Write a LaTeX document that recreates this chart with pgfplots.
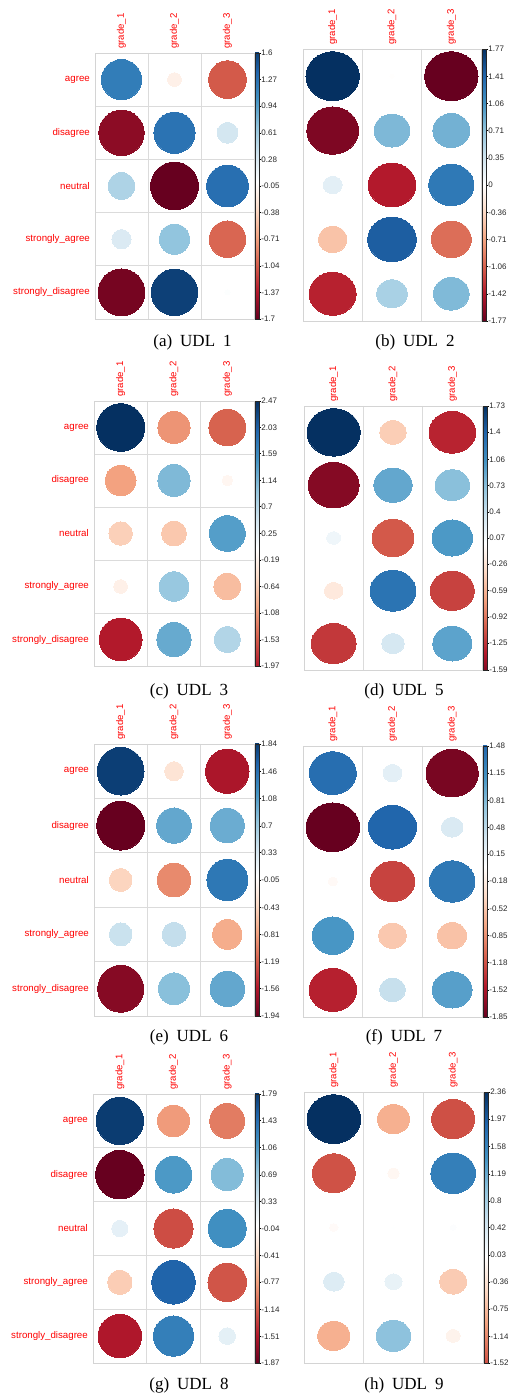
\documentclass[border=0pt]{standalone}
\usepackage{fontspec}
\setmainfont{Liberation Sans}
\newfontfamily\capfont{Liberation Serif}
\usepackage{pgfplots}
\usepackage{pgfplotstable}
\pgfplotsset{compat=1.18}

% values: rows agree, disagree, neutral, strongly_agree, strongly_disagree; cols grade_1..3
\pgfplotstableread{
r c v
1 1 1.19
1 2 -0.14
1 3 -1.05
2 1 -1.53
2 2 1.26
2 3 0.32
3 1 0.53
3 2 -1.70
3 3 1.29
4 1 0.27
4 2 0.68
4 3 -0.99
5 1 -1.63
5 2 1.60
5 3 0.02
}\tabA
\pgfplotstableread{
r c v
1 1 1.77
1 2 -0.01
1 3 -1.77
2 1 -1.66
2 2 0.80
2 3 0.85
3 1 0.22
3 2 -1.41
3 3 1.27
4 1 -0.51
4 2 1.47
4 3 -0.99
5 1 -1.37
5 2 0.58
5 3 0.79
}\tabB
\pgfplotstableread{
r c v
1 1 2.47
1 2 -1.11
1 3 -1.46
2 1 -1.01
2 2 1.11
2 3 -0.12
3 1 -0.59
3 2 -0.67
3 3 1.38
4 1 -0.20
4 2 0.94
4 3 -0.77
5 1 -1.97
5 2 1.26
5 3 0.74
}\tabC
\pgfplotstableread{
r c v
1 1 1.73
1 2 -0.43
1 3 -1.33
2 1 -1.59
2 2 0.90
2 3 0.73
3 1 0.12
3 2 -1.07
3 3 1.00
4 1 -0.21
4 2 1.28
4 3 -1.18
5 1 -1.23
5 2 0.31
5 3 0.93
}\tabD
\pgfplotstableread{
r c v
1 1 1.84
1 2 -0.29
1 3 -1.59
2 1 -1.94
2 2 1.01
2 3 0.97
3 1 -0.43
3 2 -0.93
3 3 1.40
4 1 0.43
4 2 0.47
4 3 -0.72
5 1 -1.78
5 2 0.82
5 3 1.01
}\tabE
\pgfplotstableread{
r c v
1 1 1.42
1 2 0.23
1 3 -1.76
2 1 -1.85
2 2 1.48
2 3 0.30
3 1 -0.06
3 2 -1.26
3 3 1.33
4 1 1.09
4 2 -0.50
4 3 -0.54
5 1 -1.44
5 2 0.43
5 3 1.02
}\tabF
\pgfplotstableread{
r c v
1 1 1.79
1 2 -0.80
1 3 -0.97
2 1 -1.87
2 2 1.08
2 3 0.82
3 1 0.21
3 2 -1.22
3 3 1.16
4 1 -0.47
4 2 1.51
4 3 -1.18
5 1 -1.51
5 2 1.29
5 3 0.22
}\tabG
\pgfplotstableread{
r c v
1 1 2.36
1 2 -0.85
1 3 -1.52
2 1 -1.51
2 2 -0.11
2 3 1.63
3 1 -0.06
3 2 0.01
3 3 0.03
4 1 0.35
4 2 0.24
4 3 -0.61
5 1 -0.85
5 2 0.97
5 3 -0.16
}\tabH

\pgfplotsset{
  colormap={rdbu}{rgb255=(103,0,31) rgb255=(178,24,43) rgb255=(214,96,77) rgb255=(244,165,130) rgb255=(253,219,199) rgb255=(255,255,255) rgb255=(209,229,240) rgb255=(146,197,222) rgb255=(67,147,195) rgb255=(33,102,172) rgb255=(5,48,97)},
  corr/.style={
    scale only axis, anchor=south west,
    xmin=0.5, xmax=3.5, ymin=0.5, ymax=5.5, y dir=reverse,
    xtick={1,2,3}, xticklabels={grade\_1,grade\_2,grade\_3},
    xticklabel pos=right,
    xticklabel style={rotate=90, anchor=west, inner sep=0pt, font=\fontsize{9.6}{11}\selectfont, text=red},
    xticklabel shift=4pt,
    ytick={1,2,3,4,5},
    yticklabels={agree,disagree,neutral,strongly\_agree,strongly\_disagree},
    yticklabel style={anchor=east, inner sep=0pt, font=\fontsize{9.7}{11}\selectfont, text=red},
    yticklabel shift=5pt,
    major tick length=0pt, minor tick length=0pt,
    minor xtick={1.5,2.5}, minor ytick={1.5,2.5,3.5,4.5},
    xminorgrids=true, yminorgrids=true,
    minor grid style={draw=black!14, line width=0.8pt},
    axis line style={draw=black!17, line width=0.8pt},
    colormap name=rdbu,
    point meta min=-\MM, point meta max=\MM,
    colorbar,
    colorbar shift/.style={xshift=1pt},
  },
  cb/.style n args={3}{
    colorbar style={
      at={(parent axis.north east)}, anchor=north west,
      scale only axis, width=4pt,
      height=\pgfkeysvalueof{/pgfplots/parent axis height},
      y dir=normal, clip=true,
      ymin=#1, ymax=#2,
      xtick=\empty, minor xtick={}, minor ytick={},
      xminorgrids=false, yminorgrids=false,
      ytick={#3}, yticklabels={#3},
      ytick pos=right, yticklabel pos=right,
      tick align=outside, major tick length=2pt,
      major tick style={black, line width=0.4pt},
      axis line style={draw=black!85, line width=0.4pt},
      yticklabel shift=0pt,
      yticklabel style={anchor=west, inner sep=0pt, xshift=0.2pt, rotate=0,
        font=\fontsize{8}{9}\selectfont, text=black!85},
    },
  },
  circ/.style={scatter, only marks, mark=*, point meta=explicit,
    scatter/use mapped color={draw=mapped color, fill=mapped color},
    visualization depends on={0.45*\CH*sqrt(abs(\thisrow{v})/\MM) \as \rad},
    scatter/@pre marker code/.append style={/tikz/mark size=\rad},
    mark options={xscale=\XS, line width=0pt}},
}
\newcommand{\subcap}[3]{\node[font=\capfont\fontsize{17}{20}\selectfont, inner sep=0pt] at (#1pt,#2pt) {#3};}

\begin{document}
\begin{tikzpicture}
\useasboundingbox (0,0) rectangle (507pt,1394pt);

% (a)
\def\MM{1.7}\def\CH{53.2}\def\XS{1.0}
\begin{axis}[corr, at={(95pt,1075pt)}, width=159pt, height=266pt,
  cb={-1.7}{1.6}{-1.7,-1.37,-1.04,-0.71,-0.38,-0.05,0.28,0.61,0.94,1.27,1.6}]
\addplot[circ] table[x=c, y=r, meta=v] {\tabA};
\end{axis}

% (b)
\def\MM{1.77}\def\CH{54.4}\def\XS{1.09}
\begin{axis}[corr, at={(303pt,1073pt)}, width=178pt, height=272pt, ytick=\empty,
  cb={-1.77}{1.77}{-1.77,-1.42,-1.06,-0.71,-0.36,0,0.35,0.71,1.06,1.41,1.77}]
\addplot[circ] table[x=c, y=r, meta=v] {\tabB};
\end{axis}

% (c)
\def\MM{2.47}\def\CH{53}\def\XS{1.006}
\begin{axis}[corr, at={(94pt,728pt)}, width=160pt, height=265pt,
  cb={-1.97}{2.47}{-1.97,-1.53,-1.08,-0.64,-0.19,0.25,0.7,1.14,1.59,2.03,2.47}]
\addplot[circ] table[x=c, y=r, meta=v] {\tabC};
\end{axis}

% (d)
\def\MM{1.73}\def\CH{52.8}\def\XS{1.12}
\begin{axis}[corr, at={(304pt,724pt)}, width=178pt, height=264pt, ytick=\empty,
  cb={-1.59}{1.73}{-1.59,-1.25,-0.92,-0.59,-0.26,0.07,0.4,0.73,1.06,1.4,1.73}]
\addplot[circ] table[x=c, y=r, meta=v] {\tabD};
\end{axis}

% (e)
\def\MM{1.94}\def\CH{54.4}\def\XS{0.98}
\begin{axis}[corr, at={(94pt,378pt)}, width=160pt, height=272pt,
  cb={-1.94}{1.84}{-1.94,-1.56,-1.19,-0.81,-0.43,-0.05,0.33,0.7,1.08,1.46,1.84}]
\addplot[circ] table[x=c, y=r, meta=v] {\tabE};
\end{axis}

% (f)
\def\MM{1.85}\def\CH{54.2}\def\XS{1.10}
\begin{axis}[corr, at={(303pt,377pt)}, width=179pt, height=271pt, ytick=\empty,
  cb={-1.85}{1.48}{-1.85,-1.52,-1.18,-0.85,-0.52,-0.18,0.15,0.48,0.81,1.15,1.48}]
\addplot[circ] table[x=c, y=r, meta=v] {\tabF};
\end{axis}

% (g)
\def\MM{1.87}\def\CH{53.8}\def\XS{1.0}
\begin{axis}[corr, at={(93pt,31pt)}, width=161pt, height=269pt,
  cb={-1.87}{1.79}{-1.87,-1.51,-1.14,-0.77,-0.41,-0.04,0.33,0.69,1.06,1.43,1.79}]
\addplot[circ] table[x=c, y=r, meta=v] {\tabG};
\end{axis}

% (h)
\def\MM{2.36}\def\CH{54.2}\def\XS{1.10}
\begin{axis}[corr, at={(304pt,31pt)}, width=179pt, height=271pt, ytick=\empty,
  cb={-1.52}{2.36}{-1.52,-1.14,-0.75,-0.36,0.03,0.42,0.8,1.19,1.58,1.97,2.36}]
\addplot[circ] table[x=c, y=r, meta=v] {\tabH};
\end{axis}

\subcap{192.5}{1052}{(a)\hspace{8pt}UDL\hspace{8pt}1}
\subcap{415}{1052}{(b)\hspace{8pt}UDL\hspace{8pt}2}
\subcap{189}{703}{(c)\hspace{8pt}UDL\hspace{8pt}3}
\subcap{404}{703}{(d)\hspace{8pt}UDL\hspace{8pt}5}
\subcap{189}{357}{(e)\hspace{8pt}UDL\hspace{8pt}6}
\subcap{404}{357}{(f)\hspace{8pt}UDL\hspace{8pt}7}
\subcap{189}{9}{(g)\hspace{8pt}UDL\hspace{8pt}8}
\subcap{404}{9}{(h)\hspace{8pt}UDL\hspace{8pt}9}
\end{tikzpicture}
\end{document}
